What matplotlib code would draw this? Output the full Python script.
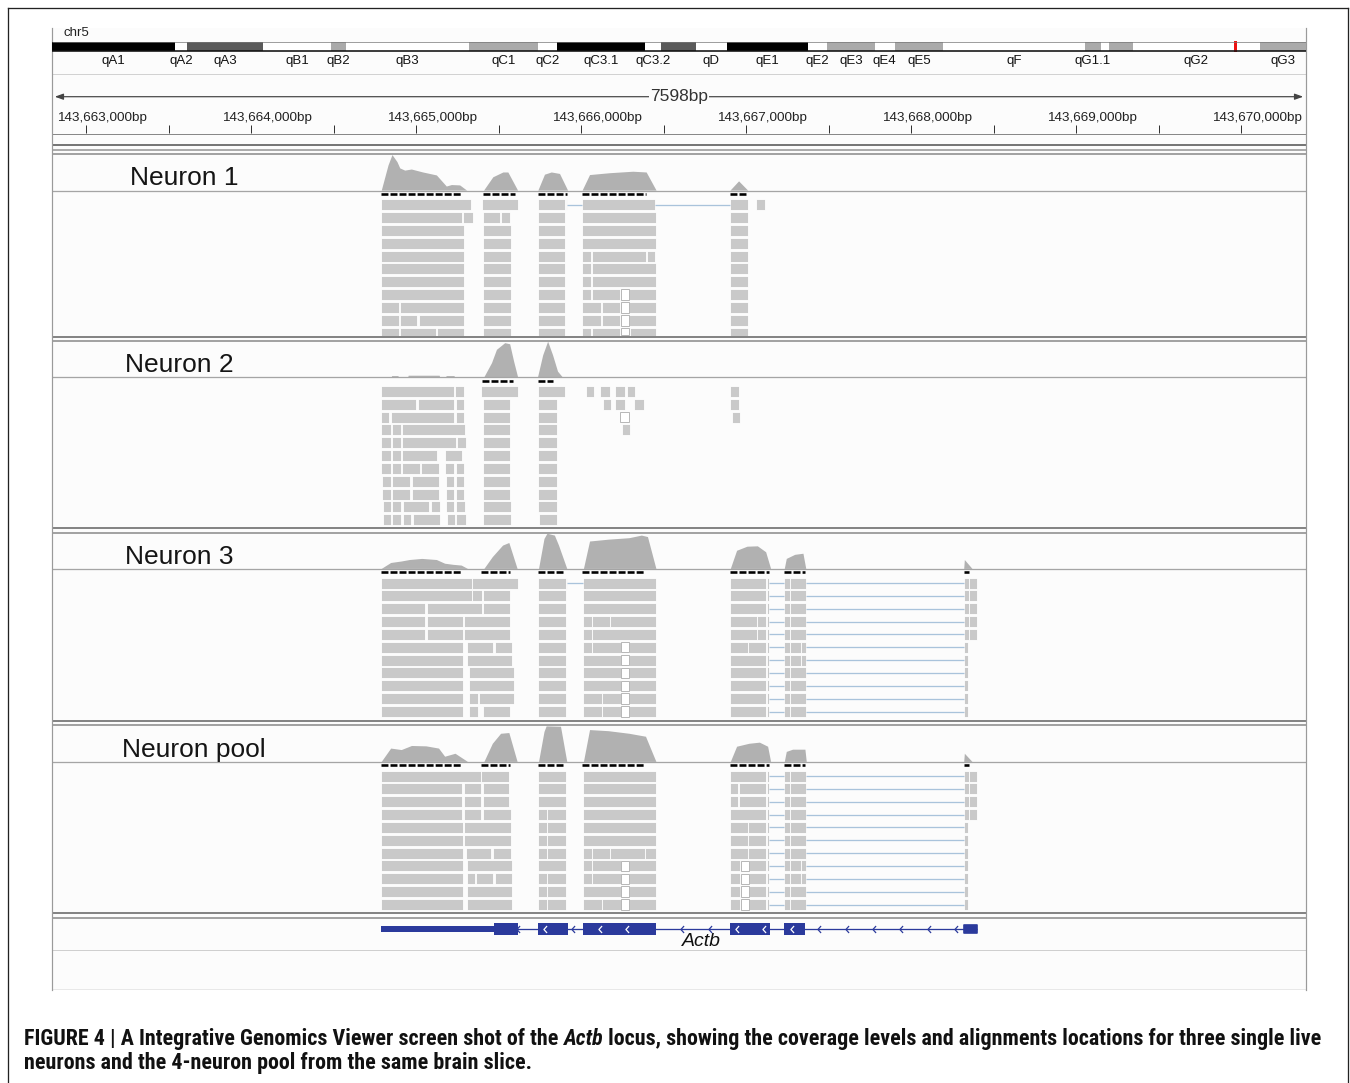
import matplotlib
matplotlib.use('Agg')
import matplotlib.pyplot as plt
from matplotlib.patches import Rectangle
from matplotlib.path import Path
from matplotlib.lines import Line2D
from matplotlib.transforms import blended_transform_factory
from matplotlib import font_manager
from matplotlib.font_manager import FontProperties

plt.rcParams['lines.scale_dashes'] = False

# ------------------------------------------------------------------ data
ORIGIN = 143_663_000                 # genomic origin; positions below are bp offsets
VIEW = (-206, 7392)                  # visible window (7598 bp)
RULER_TICKS = list(range(0, 7001, 500))

chrom_name = 'chr5'
chrom_len_mb = 151.8
band_edges_mb = [0, 14.9, 16.4, 25.6, 33.8, 35.6, 50.5, 58.8, 61.1, 71.8, 73.7, 77.9,
                 81.7, 91.5, 93.8, 99.6, 102.0, 107.9, 125.0, 127.0, 127.9, 130.8, 146.2, 151.8]
band_names = ['qA1', 'qA2', 'qA3', 'qB1', 'qB2', 'qB3', 'qC1', 'qC2', 'qC3.1', 'qC3.2', '',
              'qD', 'qE1', 'qE2', 'qE3', 'qE4', 'qE5', 'qF', 'qG1.1', '', '', 'qG2', 'qG3']
band_stain = ['k', 'w', 'd', 'w', 'g', 'w', 'g', 'w', 'k', 'w', 'd', 'w',
              'k', 'w', 'g', 'w', 'g', 'w', 'g', 'w', 'g', 'w', 'g']
view_marker_mb = (143.05, 143.42)

track_names = ['Neuron 1', 'Neuron 2', 'Neuron 3', 'Neuron pool']

# coverage (bp offset, relative height 0-100)
N1_cov_x = [1789, 1830, 1854, 1884, 1901, 1931, 1971, 2040, 2123, 2161, 2183, 2214, 2264, 2306,
            2409, 2465, 2526, 2556, 2615,
            2738, 2778, 2819, 2869, 2918,
            3006, 3051, 3172, 3313, 3394, 3454,
            3902, 3954, 4009]
N1_cov_h = [0, 68, 96, 77, 60, 54, 57, 49, 41, 22, 11, 15, 14, 0,
            0, 36, 49, 49, 0,
            0, 43, 49, 45, 0,
            0, 42, 47, 51, 49, 0,
            0, 25, 0]
N2_cov_x = [1850, 1852, 1890, 1892, 1950, 1952, 2140, 2142, 2180, 2182, 2230, 2232,
            2411, 2457, 2487, 2537, 2567, 2591, 2615,
            2736, 2767, 2797, 2827, 2857, 2885]
N2_cov_h = [0, 3, 3, 0, 0, 4, 4, 0, 0, 3, 3, 0,
            0, 38, 74, 92, 89, 42, 0,
            0, 59, 96, 59, 15, 0]
N3_cov_x = [1789, 1846, 1910, 1959, 2034, 2123, 2173, 2223, 2273, 2311,
            2411, 2462, 2524, 2562, 2612,
            2742, 2775, 2793, 2838, 2863, 2913,
            3014, 3051, 3164, 3290, 3365, 3402, 3453,
            3904, 3942, 4005, 4068, 4118, 4148,
            4231, 4243, 4294, 4344, 4361,
            5318, 5322, 5368]
N3_cov_h = [0, 16, 20, 24, 27, 24, 14, 11, 9, 0,
            0, 32, 63, 70, 0,
            0, 81, 95, 90, 63, 0,
            0, 74, 79, 83, 90, 86, 0,
            0, 49, 60, 61, 45, 0,
            0, 27, 38, 41, 0,
            0, 24, 0]
POOL_cov_x = [1789, 1846, 1910, 1972, 2060, 2136, 2173, 2236, 2311,
              2411, 2462, 2512, 2562, 2612,
              2742, 2775, 2788, 2875, 2913,
              3014, 3051, 3164, 3290, 3390, 3453,
              3904, 3942, 4017, 4080, 4130, 4148,
              4231, 4243, 4281, 4356, 4364,
              5318, 5322, 5368]
POOL_cov_h = [0, 36, 32, 43, 42, 36, 14, 22, 0,
              0, 49, 76, 78, 0,
              0, 81, 96, 95, 0,
              0, 86, 83, 76, 68, 0,
              0, 41, 49, 52, 41, 0,
              0, 27, 33, 33, 0,
              0, 22, 0]

# loaded-interval dashes under coverage (bp offsets)
N1_dash = [(1786, 2276), (2403, 2597), (2736, 2912), (3008, 3396), (3904, 4001)]
N2_dash = [(2397, 2585), (2736, 2827)]
N3_dash = [(1786, 2276), (2391, 2566), (2736, 2899), (3008, 3390), (3904, 4140), (4231, 4358), (5320, 5351)]
POOL_dash = [(1786, 2276), (2391, 2566), (2736, 2899), (3008, 3390), (3904, 4140), (4231, 4358), (5320, 5351)]

# aligned reads: one list of (start, end) per row
N1_rows = [
    [(1789, 2330), (2397, 2615), (2736, 2905), (2909, 2916), (3008, 3450), (3904, 4009), (4060, 4114)],
    [(1789, 2280), (2286, 2342), (2403, 2506), (2516, 2572), (2736, 2905), (3008, 3453), (3904, 4009)],
    [(1789, 2288), (2403, 2573), (2736, 2905), (3008, 3453), (3904, 4009)],
    [(1789, 2288), (2403, 2573), (2736, 2905), (3008, 3453), (3904, 4009)],
    [(1789, 2288), (2403, 2573), (2736, 2905), (3008, 3061), (3067, 3394), (3400, 3450), (3904, 4009)],
    [(1789, 2288), (2403, 2573), (2736, 2905), (3008, 3061), (3067, 3453), (3904, 4009)],
    [(1789, 2288), (2403, 2573), (2736, 2905), (3008, 3061), (3067, 3453), (3904, 4009)],
    [(1789, 2288), (2403, 2573), (2736, 2905), (3008, 3061), (3067, 3238), (3293, 3453), (3904, 4009)],
    [(1789, 1898), (1904, 2288), (2403, 2573), (2736, 2905), (3008, 3122), (3128, 3238), (3293, 3453), (3904, 4009)],
    [(1789, 1896), (1905, 2008), (2016, 2290), (2403, 2573), (2736, 2905), (3008, 3122), (3128, 3238), (3293, 3453), (3904, 4009)],
    [(1789, 1896), (1905, 2118), (2126, 2290), (2403, 2573), (2736, 2905), (3008, 3061), (3067, 3238), (3298, 3453), (3904, 4009)],
]
N1_junctions = [(0, 2916, 3008), (0, 3450, 3904)]
N1_gaps = [(7, 3242, 3288), (8, 3242, 3288), (9, 3242, 3288), (10, 3242, 3288)]

N2_rows = [
    [(1789, 2229), (2238, 2290), (2393, 2615), (2738, 2901), (3031, 3081), (3117, 3172), (3208, 3263), (3279, 3329), (3904, 3959)],
    [(1789, 2001), (2011, 2229), (2239, 2290), (2405, 2571), (2738, 2851), (3131, 3182), (3208, 3263), (3323, 3378), (3904, 3959)],
    [(1789, 1836), (1845, 2229), (2239, 2290), (2405, 2571), (2738, 2851), (3912, 3965)],
    [(1790, 1845), (1854, 1907), (1915, 2294), (2405, 2571), (2738, 2851), (3246, 3297)],
    [(1790, 1845), (1854, 1907), (1915, 2239), (2247, 2304), (2405, 2571), (2738, 2851)],
    [(1790, 1845), (1854, 1907), (1915, 2129), (2173, 2280), (2405, 2571), (2738, 2851)],
    [(1790, 1845), (1854, 1907), (1915, 2022), (2028, 2139), (2173, 2229), (2239, 2290), (2405, 2571), (2738, 2851)],
    [(1792, 1845), (1856, 1965), (1975, 2139), (2179, 2229), (2239, 2290), (2405, 2571), (2738, 2851)],
    [(1792, 1845), (1856, 1965), (1975, 2139), (2179, 2229), (2239, 2290), (2405, 2571), (2738, 2851)],
    [(1798, 1849), (1857, 1910), (1919, 2081), (2089, 2143), (2179, 2229), (2243, 2294), (2405, 2575), (2738, 2851)],
    [(1798, 1849), (1857, 1910), (1919, 1971), (1981, 2143), (2187, 2233), (2243, 2300), (2405, 2575), (2744, 2851)],
]
N2_junctions = []
N2_gaps = [(2, 3237, 3289)]

N3_rows = [
    [(1789, 2336), (2341, 2620), (2738, 2906), (2908, 2915), (3014, 3453), (3899, 4118), (4128, 4140), (4231, 4268), (4268, 4361), (5318, 5348), (5348, 5397)],
    [(1789, 2336), (2341, 2399), (2404, 2570), (2738, 2906), (3014, 3453), (3899, 4118), (4128, 4140), (4231, 4268), (4268, 4361), (5318, 5348), (5348, 5397)],
    [(1789, 2055), (2065, 2399), (2404, 2570), (2738, 2906), (3014, 3453), (3899, 4118), (4128, 4140), (4231, 4268), (4268, 4361), (5318, 5348), (5348, 5397)],
    [(1789, 2055), (2065, 2286), (2293, 2570), (2738, 2906), (3014, 3064), (3064, 3172), (3172, 3453), (3899, 4068), (4068, 4118), (4128, 4140), (4231, 4268), (4268, 4361), (5318, 5348), (5348, 5397)],
    [(1789, 2055), (2065, 2286), (2293, 2570), (2738, 2906), (3014, 3064), (3064, 3453), (3899, 4068), (4068, 4118), (4128, 4140), (4231, 4268), (4268, 4361), (5318, 5348), (5348, 5397)],
    [(1789, 2286), (2311, 2469), (2477, 2582), (2738, 2906), (3014, 3064), (3064, 3240), (3290, 3453), (3899, 4010), (4010, 4118), (4128, 4140), (4231, 4268), (4268, 4331), (4331, 4361), (5318, 5342)],
    [(1789, 2286), (2311, 2582), (2738, 2906), (3014, 3240), (3290, 3453), (3899, 4118), (4128, 4140), (4231, 4268), (4268, 4331), (4331, 4361), (5318, 5342)],
    [(1789, 2286), (2318, 2594), (2738, 2906), (3014, 3240), (3290, 3453), (3899, 4118), (4128, 4140), (4231, 4268), (4268, 4361), (5318, 5342)],
    [(1789, 2286), (2318, 2594), (2738, 2906), (3014, 3240), (3290, 3453), (3899, 4118), (4128, 4140), (4231, 4268), (4268, 4361), (5318, 5342)],
    [(1789, 2286), (2318, 2374), (2381, 2594), (2738, 2906), (3014, 3126), (3126, 3240), (3290, 3453), (3899, 4118), (4128, 4140), (4231, 4268), (4268, 4361), (5318, 5342)],
    [(1789, 2286), (2318, 2374), (2404, 2570), (2738, 2906), (3014, 3126), (3126, 3240), (3290, 3453), (3899, 4118), (4128, 4140), (4231, 4268), (4268, 4361), (5318, 5342)],
]
N3_junctions = [(0, 2915, 3014)] + [(r, 4140, 4231) for r in range(11)] + [(r, 4361, 5318) for r in range(11)]
N3_gaps = [(r, 3240, 3290) for r in range(5, 11)]

POOL_rows = [
    [(1789, 2392), (2394, 2562), (2738, 2906), (3014, 3453), (3899, 4118), (4128, 4140), (4231, 4268), (4268, 4361), (5318, 5348), (5348, 5397)],
    [(1789, 2281), (2291, 2392), (2404, 2562), (2738, 2906), (3014, 3453), (3899, 3950), (3957, 4118), (4128, 4140), (4231, 4268), (4268, 4361), (5318, 5348), (5348, 5397)],
    [(1789, 2281), (2291, 2392), (2404, 2562), (2738, 2906), (3014, 3453), (3899, 3950), (3957, 4118), (4128, 4140), (4231, 4268), (4268, 4361), (5318, 5348), (5348, 5397)],
    [(1789, 2281), (2291, 2394), (2404, 2575), (2738, 2793), (2793, 2906), (3014, 3453), (3899, 4118), (4128, 4140), (4231, 4268), (4268, 4361), (5318, 5348), (5348, 5397)],
    [(1789, 2286), (2293, 2575), (2738, 2793), (2793, 2906), (3014, 3453), (3899, 4013), (4013, 4118), (4128, 4140), (4231, 4268), (4268, 4361), (5318, 5342)],
    [(1789, 2286), (2293, 2575), (2738, 2793), (2793, 2906), (3014, 3453), (3899, 4013), (4013, 4118), (4128, 4140), (4231, 4268), (4268, 4361), (5318, 5342)],
    [(1789, 2286), (2301, 2456), (2466, 2575), (2738, 2793), (2793, 2906), (3014, 3064), (3064, 3172), (3172, 3390), (3390, 3453), (3899, 4013), (4013, 4118), (4128, 4140), (4231, 4268), (4268, 4361), (5318, 5342)],
    [(1789, 2286), (2306, 2582), (2738, 2906), (3014, 3064), (3064, 3240), (3290, 3453), (3899, 3960), (4020, 4118), (4128, 4140), (4231, 4268), (4268, 4331), (4331, 4361), (5318, 5342)],
    [(1789, 2286), (2306, 2356), (2366, 2466), (2477, 2582), (2738, 2793), (2793, 2906), (3014, 3064), (3064, 3240), (3290, 3453), (3899, 3960), (4020, 4118), (4128, 4140), (4231, 4268), (4268, 4331), (4331, 4361), (5318, 5342)],
    [(1789, 2286), (2311, 2582), (2738, 2793), (2793, 2906), (3014, 3240), (3290, 3453), (3899, 3960), (4020, 4118), (4128, 4140), (4231, 4268), (4268, 4361), (5318, 5342)],
    [(1789, 2286), (2311, 2582), (2738, 2793), (2793, 2906), (3014, 3126), (3126, 3240), (3290, 3453), (3899, 3960), (4020, 4118), (4128, 4140), (4231, 4268), (4268, 4361), (5318, 5342)],
]
POOL_junctions = [(r, 4140, 4231) for r in range(11)] + [(r, 4361, 5318) for r in range(11)]
POOL_gaps = [(r, 3240, 3290) for r in range(7, 11)] + [(r, 3967, 4017) for r in range(7, 11)]

# gene model (Actb, minus strand)
gene_name = 'Actb'
gene_utr3 = (1786, 2470)
gene_exons = [(2470, 2615), (2736, 2918), (3014, 3456), (3904, 4146), (4231, 4358)]
gene_utr5 = (5318, 5399)

caption_line1 = [('FIGURE 4 | A Integrative Genomics Viewer screen shot of the ', 'normal'),
                 ('Actb', 'italic'),
                 (' locus, showing the coverage levels and alignments locations for three single live', 'normal')]
caption_line2 = 'neurons and the 4-neuron pool from the same brain slice.'

# ------------------------------------------------------------------ layout / style
W, H, DPI = 1350, 1083, 100
PANEL_L, PANEL_R, PANEL_T, PANEL_B = 52, 1306, 28, 990
TRACK_TOP = [153.5, 341.0, 533.0, 725.3]
TRACK_SEP = [190.7, 377.3, 569.0, 762.0]
TRACK_BOT = [336.7, 528.3, 721.0, 913.3]
TRACK_LABEL_X = [130, 125, 125, 122]
COV_PX = 37.0
READ_OFF, ROW_PITCH, READ_H = 8.5, 12.85, 11.0
COV_C, READ_C, JUNC_C, GENE_C = '#b1b1b1', '#c9c9c9', '#a9c3db', '#2b3a9c'
STAIN_C = {'k': '#000000', 'd': '#5a5a5a', 'g': '#aaaaaa', 'w': '#ffffff'}

names = {f.name for f in font_manager.fontManager.ttflist}
UI_FONT = ['Liberation Sans', 'DejaVu Sans']

# condensed bold face for the caption, if one is installed
CAP_FONT, CAP_STRETCH = ['Liberation Sans', 'DejaVu Sans'], 'normal'
for cand in ['Liberation Sans Narrow', 'Roboto Condensed', 'Open Sans Condensed', 'DejaVu Sans Condensed']:
    if cand in names:
        CAP_FONT, CAP_STRETCH = [cand, 'DejaVu Sans'], 'normal'
        break
else:
    try:
        p = font_manager.findfont(FontProperties(family='DejaVu Sans', weight='bold', stretch='condensed'),
                                  fallback_to_default=False)
        if 'ondensed' in p:
            CAP_FONT, CAP_STRETCH = ['DejaVu Sans'], 'condensed'
    except Exception:
        pass
    if CAP_STRETCH == 'normal':
        for f in font_manager.fontManager.ttflist:
            if ('ondensed' in f.fname or 'Narrow' in f.fname) and f.weight in (700, 'bold'):
                CAP_FONT = [f.name, 'DejaVu Sans']
                CAP_STRETCH = f.stretch
                break

PX = 0.72  # points per pixel


def fx(px):
    return px / W


def fy(py):
    return 1 - py / H


fig = plt.figure(figsize=(W / DPI, H / DPI), dpi=DPI)
fig.patch.set_facecolor('white')

ax = fig.add_axes([fx(PANEL_L), fy(PANEL_B), (PANEL_R - PANEL_L) / W, (PANEL_B - PANEL_T) / H])
ax.set_xlim(*VIEW)
ax.set_ylim(PANEL_B, PANEL_T)
ax.set_xticks([])
ax.set_yticks([])
ax.set_facecolor('#fcfcfc')
for s in ['top', 'bottom']:
    ax.spines[s].set_visible(False)
for s in ['left', 'right']:
    ax.spines[s].set_color('#9a9a9a')
    ax.spines[s].set_linewidth(1.2 * PX)
bt = blended_transform_factory(ax.transAxes, ax.transData)


def axfrac(px):
    return (px - PANEL_L) / (PANEL_R - PANEL_L)


# --- chromosome label + ideogram
ax.text(axfrac(63), 33, chrom_name, transform=bt,
        fontsize=9.5, family=UI_FONT, va='center', ha='left', color='#222')

axi = fig.add_axes([fx(PANEL_L), fy(70), (PANEL_R - PANEL_L) / W, 32 / H])
axi.set_xlim(0, chrom_len_mb)
axi.set_ylim(70, 38)
axi.axis('off')
for i, name in enumerate(band_names):
    a, b = band_edges_mb[i], band_edges_mb[i + 1]
    axi.add_patch(Rectangle((a, 41.7), b - a, 9.3, fc=STAIN_C[band_stain[i]], ec='none'))
    if name:
        axi.text((a + b) / 2, 61, name, fontsize=9.5, family=UI_FONT, ha='center', va='center', color='#111')
axi.hlines(41.7, 0, chrom_len_mb, color='#777', lw=0.7 * PX)
axi.hlines(51.2, 0, chrom_len_mb, color='#111', lw=1.6 * PX)
axi.add_patch(Rectangle((view_marker_mb[0], 40.5), view_marker_mb[1] - view_marker_mb[0], 11.5,
                        fc='#ee1111', ec='none'))

# --- ruler
ax.axhline(74, color='#d2d2d2', lw=1 * PX)
ax.annotate('', xy=(VIEW[0], 96.7), xytext=(VIEW[1], 96.7),
            arrowprops=dict(arrowstyle='<|-|>,head_length=0.5,head_width=0.18', color='#444',
                            lw=1.2 * PX, shrinkA=2, shrinkB=2))
ax.text((VIEW[0] + VIEW[1]) / 2, 96.7, f'{VIEW[1] - VIEW[0]}bp', fontsize=12.5, family=UI_FONT,
        ha='center', va='center', color='#333',
        bbox=dict(fc='#fcfcfc', ec='none', pad=0.5))
ax.vlines(RULER_TICKS, 125, 132.7, color='#333', lw=1 * PX)
for t in RULER_TICKS:
    if t % 1000 == 0:
        ax.annotate(f'{ORIGIN + t:,}bp', xy=(t, 118), xytext=(16 * PX, 0), textcoords='offset points',
                    ha='center', va='center', fontsize=9.7, family=UI_FONT, color='#222')
ax.axhline(134, color='#888', lw=1 * PX)
ax.axhline(145, color='#777', lw=2 * PX)
ax.axhline(149.5, color='#999', lw=1.6 * PX)

# --- alignment tracks
tracks = [
    (N1_cov_x, N1_cov_h, N1_dash, N1_rows, N1_junctions, N1_gaps),
    (N2_cov_x, N2_cov_h, N2_dash, N2_rows, N2_junctions, N2_gaps),
    (N3_cov_x, N3_cov_h, N3_dash, N3_rows, N3_junctions, N3_gaps),
    (POOL_cov_x, POOL_cov_h, POOL_dash, POOL_rows, POOL_junctions, POOL_gaps),
]


def row_geom(k, r):
    top = TRACK_SEP[k] + READ_OFF + r * ROW_PITCH
    h = min(READ_H, TRACK_BOT[k] - 1.2 - top)
    return top, h


for k, (cx, ch, dashes, rows, juncs, gaps) in enumerate(tracks):
    top, sep, bot = TRACK_TOP[k], TRACK_SEP[k], TRACK_BOT[k]
    ax.axhline(top, color='#9a9a9a', lw=1.8 * PX)
    ax.axhline(sep, color='#a5a5a5', lw=1.3 * PX)
    ax.axhline(bot, color='#858585', lw=2 * PX)
    ax.text(axfrac(TRACK_LABEL_X[k]), top + 24.5, track_names[k],
            transform=bt, fontsize=19, family=UI_FONT, ha='left', va='center', color='#151515')
    base = [sep - 0.6] * len(cx)
    ax.fill_between(cx, [sep - 0.6 - v * COV_PX / 100 for v in ch], base, color=COV_C, lw=0)
    for a, b in dashes:
        ax.hlines(sep + 3.2, a, b, colors='black', lw=2.6 * PX, linestyles=(0, (5.0, 1.5)))
    for r, segs in enumerate(rows):
        y0, h = row_geom(k, r)
        if h <= 0:
            continue
        ax.broken_barh([(a, b - a) for a, b in segs], (y0, h), facecolors=READ_C,
                       edgecolors='white', linewidth=0.8 * PX)
    for r, a, b in juncs:
        y0, h = row_geom(k, r)
        ax.hlines(y0 + h / 2, a, b, color=JUNC_C, lw=1.3 * PX)
    for r, a, b in gaps:
        y0, h = row_geom(k, r)
        ax.add_patch(Rectangle((a, y0 + 0.3), b - a, h - 0.6, fc='white', ec='#b8b8b8', lw=1 * PX))

# --- gene track
ax.axhline(917.7, color='#9a9a9a', lw=1.8 * PX)
ax.axhline(950, color='#cfcfcf', lw=1 * PX)
ax.axhline(990, color='#9a9a9a', lw=1.4 * PX)
gy = 929
g0, g1 = gene_utr3[0], gene_utr5[1]
ax.hlines(gy, g0, g1, color=GENE_C, lw=1.3 * PX)
ax.add_patch(Rectangle((gene_utr3[0], gy - 3.4), gene_utr3[1] - gene_utr3[0], 6.8, fc=GENE_C, ec='none'))
ax.add_patch(Rectangle((gene_utr5[0], gy - 4.0), gene_utr5[1] - gene_utr5[0], 8.0, fc=GENE_C, ec=GENE_C,
                       lw=1.2, joinstyle='round'))
for a, b in gene_exons:
    ax.add_patch(Rectangle((a, gy - 6.4), b - a, 12.8, fc=GENE_C, ec='none'))

chev = Path([(0.45, 1.0), (-0.45, 0.0), (0.45, -1.0)], [Path.MOVETO, Path.LINETO, Path.LINETO])
step = 166
pos = g0 + step
intr, exo = [], []
while pos < g1 - 20:
    inside = [(a, b) for a, b in gene_exons if a <= pos <= b]
    if inside:
        a, b = inside[0]
        if pos - a > 30 and b - pos > 30:
            exo.append(pos)
    elif pos > gene_utr3[1]:
        intr.append(pos)
    pos += step
ax.plot(intr, [gy] * len(intr), ls='none', marker=chev, ms=5, mfc='none', mec=GENE_C, mew=0.9)
ax.plot(exo, [gy] * len(exo), ls='none', marker=chev, ms=5, mfc='none', mec='white', mew=0.9)
ax.annotate(gene_name, xy=((g0 + g1) / 2, 941), xytext=(23 * PX, 0), textcoords='offset points',
            fontsize=14, style='italic', family=UI_FONT, ha='center', va='center', color='#111')

# --- outer frame
fig.add_artist(Line2D([fx(7.5), fx(7.5)], [fy(8), 0], transform=fig.transFigure, color='#222', lw=1.3 * PX))
fig.add_artist(Line2D([fx(7.5), fx(1348)], [fy(8), fy(8)], transform=fig.transFigure, color='#222', lw=1.3 * PX))
fig.add_artist(Line2D([fx(1348), fx(1348)], [fy(8), 0], transform=fig.transFigure, color='#222', lw=1.3 * PX))

# --- caption
fs0 = 13.5
cap_kw = dict(weight='bold', family=CAP_FONT, stretch=CAP_STRETCH, color='#111')
pieces = []
t0 = fig.text(fx(24), fy(1050), caption_line1[0][0], fontsize=fs0, style=caption_line1[0][1],
              ha='left', va='bottom', **cap_kw)
pieces.append(t0)
prev = t0
for txt, sty in caption_line1[1:]:
    t = fig.add_artist(matplotlib.text.Annotation(txt, xy=(1, 0), xycoords=prev, xytext=(0, 0),
                                                  textcoords='offset points', fontsize=fs0,
                                                  style=sty, ha='left', va='bottom', **cap_kw))
    pieces.append(t)
    prev = t
t2 = fig.text(fx(24), fy(1074), caption_line2, fontsize=fs0, ha='left', va='bottom', **cap_kw)
pieces.append(t2)

fig.canvas.draw()
r = fig.canvas.get_renderer()
x_left = pieces[0].get_window_extent(r).x0
x_right = pieces[2].get_window_extent(r).x1
scale = (1318 - 24) / (x_right - x_left)
for p in pieces:
    p.set_fontsize(fs0 * scale)

fig.savefig('out.png', dpi=DPI, facecolor='white')
